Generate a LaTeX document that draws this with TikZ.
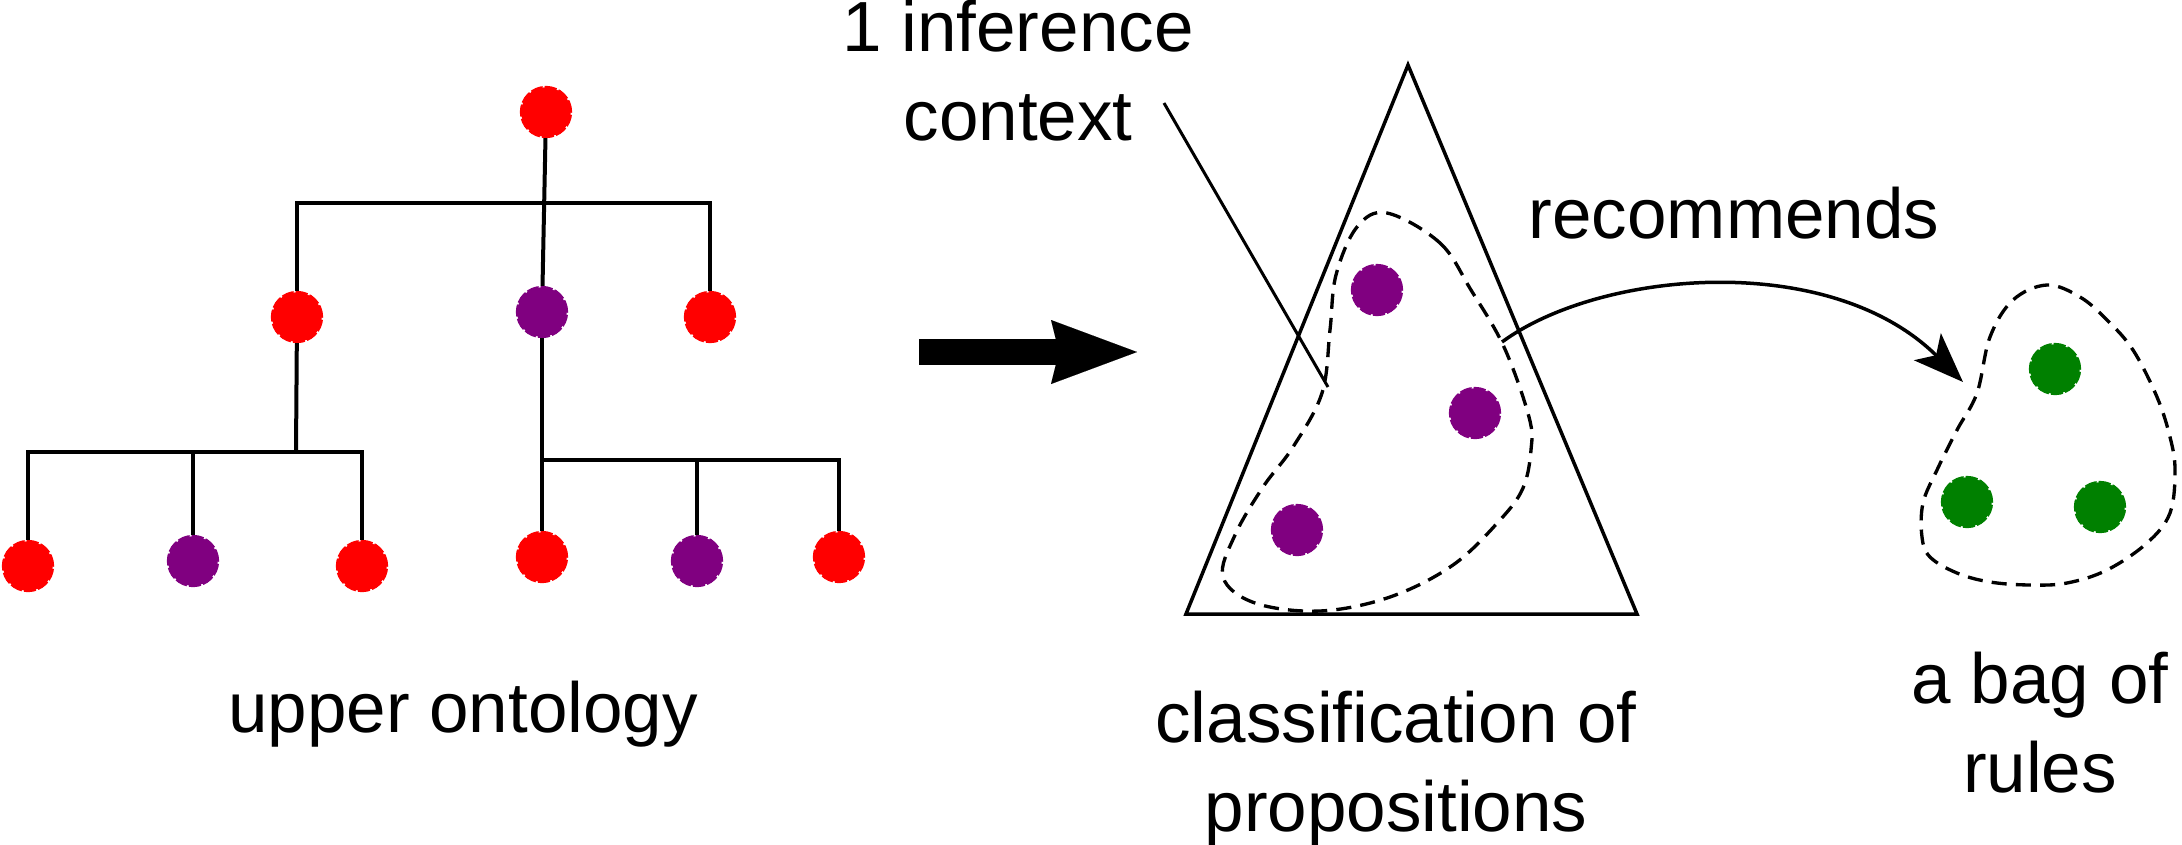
\documentclass[tikz,border=0pt]{standalone}
\usepackage{fontspec}
\setmainfont{Liberation Sans}
\usepackage{tikz}
\usetikzlibrary{arrows.meta,calc}
\definecolor{dotred}{HTML}{FF0000}
\definecolor{dotpurple}{HTML}{800080}
\definecolor{dotgreen}{HTML}{008000}
\tikzset{
    dot/.style={draw=#1, fill=#1, circle, inner sep=0pt, minimum size=4.95mm, line width=0.8pt, dash pattern=on 3.4pt off 0.6pt},
    txt/.style={font=\fontsize{20.2pt}{25.3pt}\selectfont, inner sep=0pt, align=center},
    blob/.style={line width=0.95pt, dash pattern=on 4.3pt off 2.6pt}}

\begin{document}
\begin{tikzpicture}[x=0.1mm, y=-0.1mm, line width=0.4mm]
\useasboundingbox (0,0) rectangle (2182,844);

%upper ontology
\node[dot=dotred] (root) at (546,112) {};
\node[dot=dotred] (a) at (297,317) {};
\node[dot=dotpurple] (b) at (542,312) {};
\node[dot=dotred] (c) at (710,317) {};
\node[dot=dotred] (a1) at (28,566) {};
\node[dot=dotpurple] (a2) at (193,561) {};
\node[dot=dotred] (a3) at (362,566) {};
\node[dot=dotred] (b1) at (542,557) {};
\node[dot=dotpurple] (b2) at (697,561) {};
\node[dot=dotred] (b3) at (839,557) {};
\coordinate (top bar) at (546,203);
\coordinate (a bar) at (296,452);
\coordinate (b bar) at (542,460);
%draw lines
\draw (root) -- (b);
\draw (a) |- (top bar) -| (c);
\draw (a) -- (a bar);
\draw (a1) |- (a bar) -| (a3);
\draw (a2) -- (a2 |- a bar);
\draw (b) -- (b1);
\draw (b bar) -| (b3);
\draw (b2) -- (b2 |- b bar);
\node[txt, anchor=base] (upper) at (463,732) {upper ontology};

%big arrow
\coordinate (arrow tail) at (919,352);
\coordinate (arrow head) at (1137,352);
\draw[line width=2.6mm, -{Stealth[length=8.6mm, width=6.4mm, inset=0.8mm, line width=0.01pt]}] (arrow tail) -- (arrow head);

%classification
\coordinate (apex) at (1408,65);
\coordinate (base left) at (1186,614);
\coordinate (base right) at (1637,614);
\draw[line width=0.35mm] (apex) -- (base left) -- (base right) -- cycle;
\draw[blob] plot[smooth cycle, tension=0.6] coordinates {(1387,213) (1440,243) (1471,290) (1504,347) (1529,417) (1531,450) (1523,488) (1500,520) (1453,565) (1390,597) (1320,611) (1255,603) (1223,577) (1235,535) (1263,487) (1293,447) (1322,393) (1330,330) (1336,275) (1357,227)};
\node[dot=dotpurple] (p1) at (1377,290) {};
\node[dot=dotpurple] (p2) at (1475,413) {};
\node[dot=dotpurple] (p3) at (1297,530) {};
\node[txt, anchor=base] (classes) at (1396,831) {classification of\\propositions};

\node[txt, anchor=base] (context) at (1018,140) {1 inference\\context};
\coordinate (context tail) at (1164,103);
\coordinate (context head) at (1328,387);
\draw[line width=0.3mm] (context tail) -- (context head);

%recommends
\node[txt, anchor=base] (recommends) at (1734,238) {recommends};
\coordinate (rec tail) at (1502,342);
\coordinate (rec head) at (1963,382);
\draw[line width=0.35mm, -{Stealth[length=5mm, width=3.8mm, inset=1.2mm]}] (rec tail) .. controls (1600,270) and (1830,250) .. (rec head);

%bag of rules
\draw[blob] plot[smooth cycle, tension=0.6] coordinates {(2047,285) (2080,297) (2107,320) (2133,350) (2157,397) (2170,437) (2175,470) (2170,513) (2147,543) (2107,570) (2067,583) (2030,585) (1990,582) (1957,573) (1930,557) (1922,537) (1923,503) (1937,470) (1957,430) (1977,393) (1990,337) (2013,300)};
\node[dot=dotgreen] (g1) at (2055,369) {};
\node[dot=dotgreen] (g2) at (1967,502) {};
\node[dot=dotgreen] (g3) at (2100,507) {};
\node[txt, anchor=base] (bag) at (2040,792) {a bag of\\rules};

\end{tikzpicture}
\end{document}
